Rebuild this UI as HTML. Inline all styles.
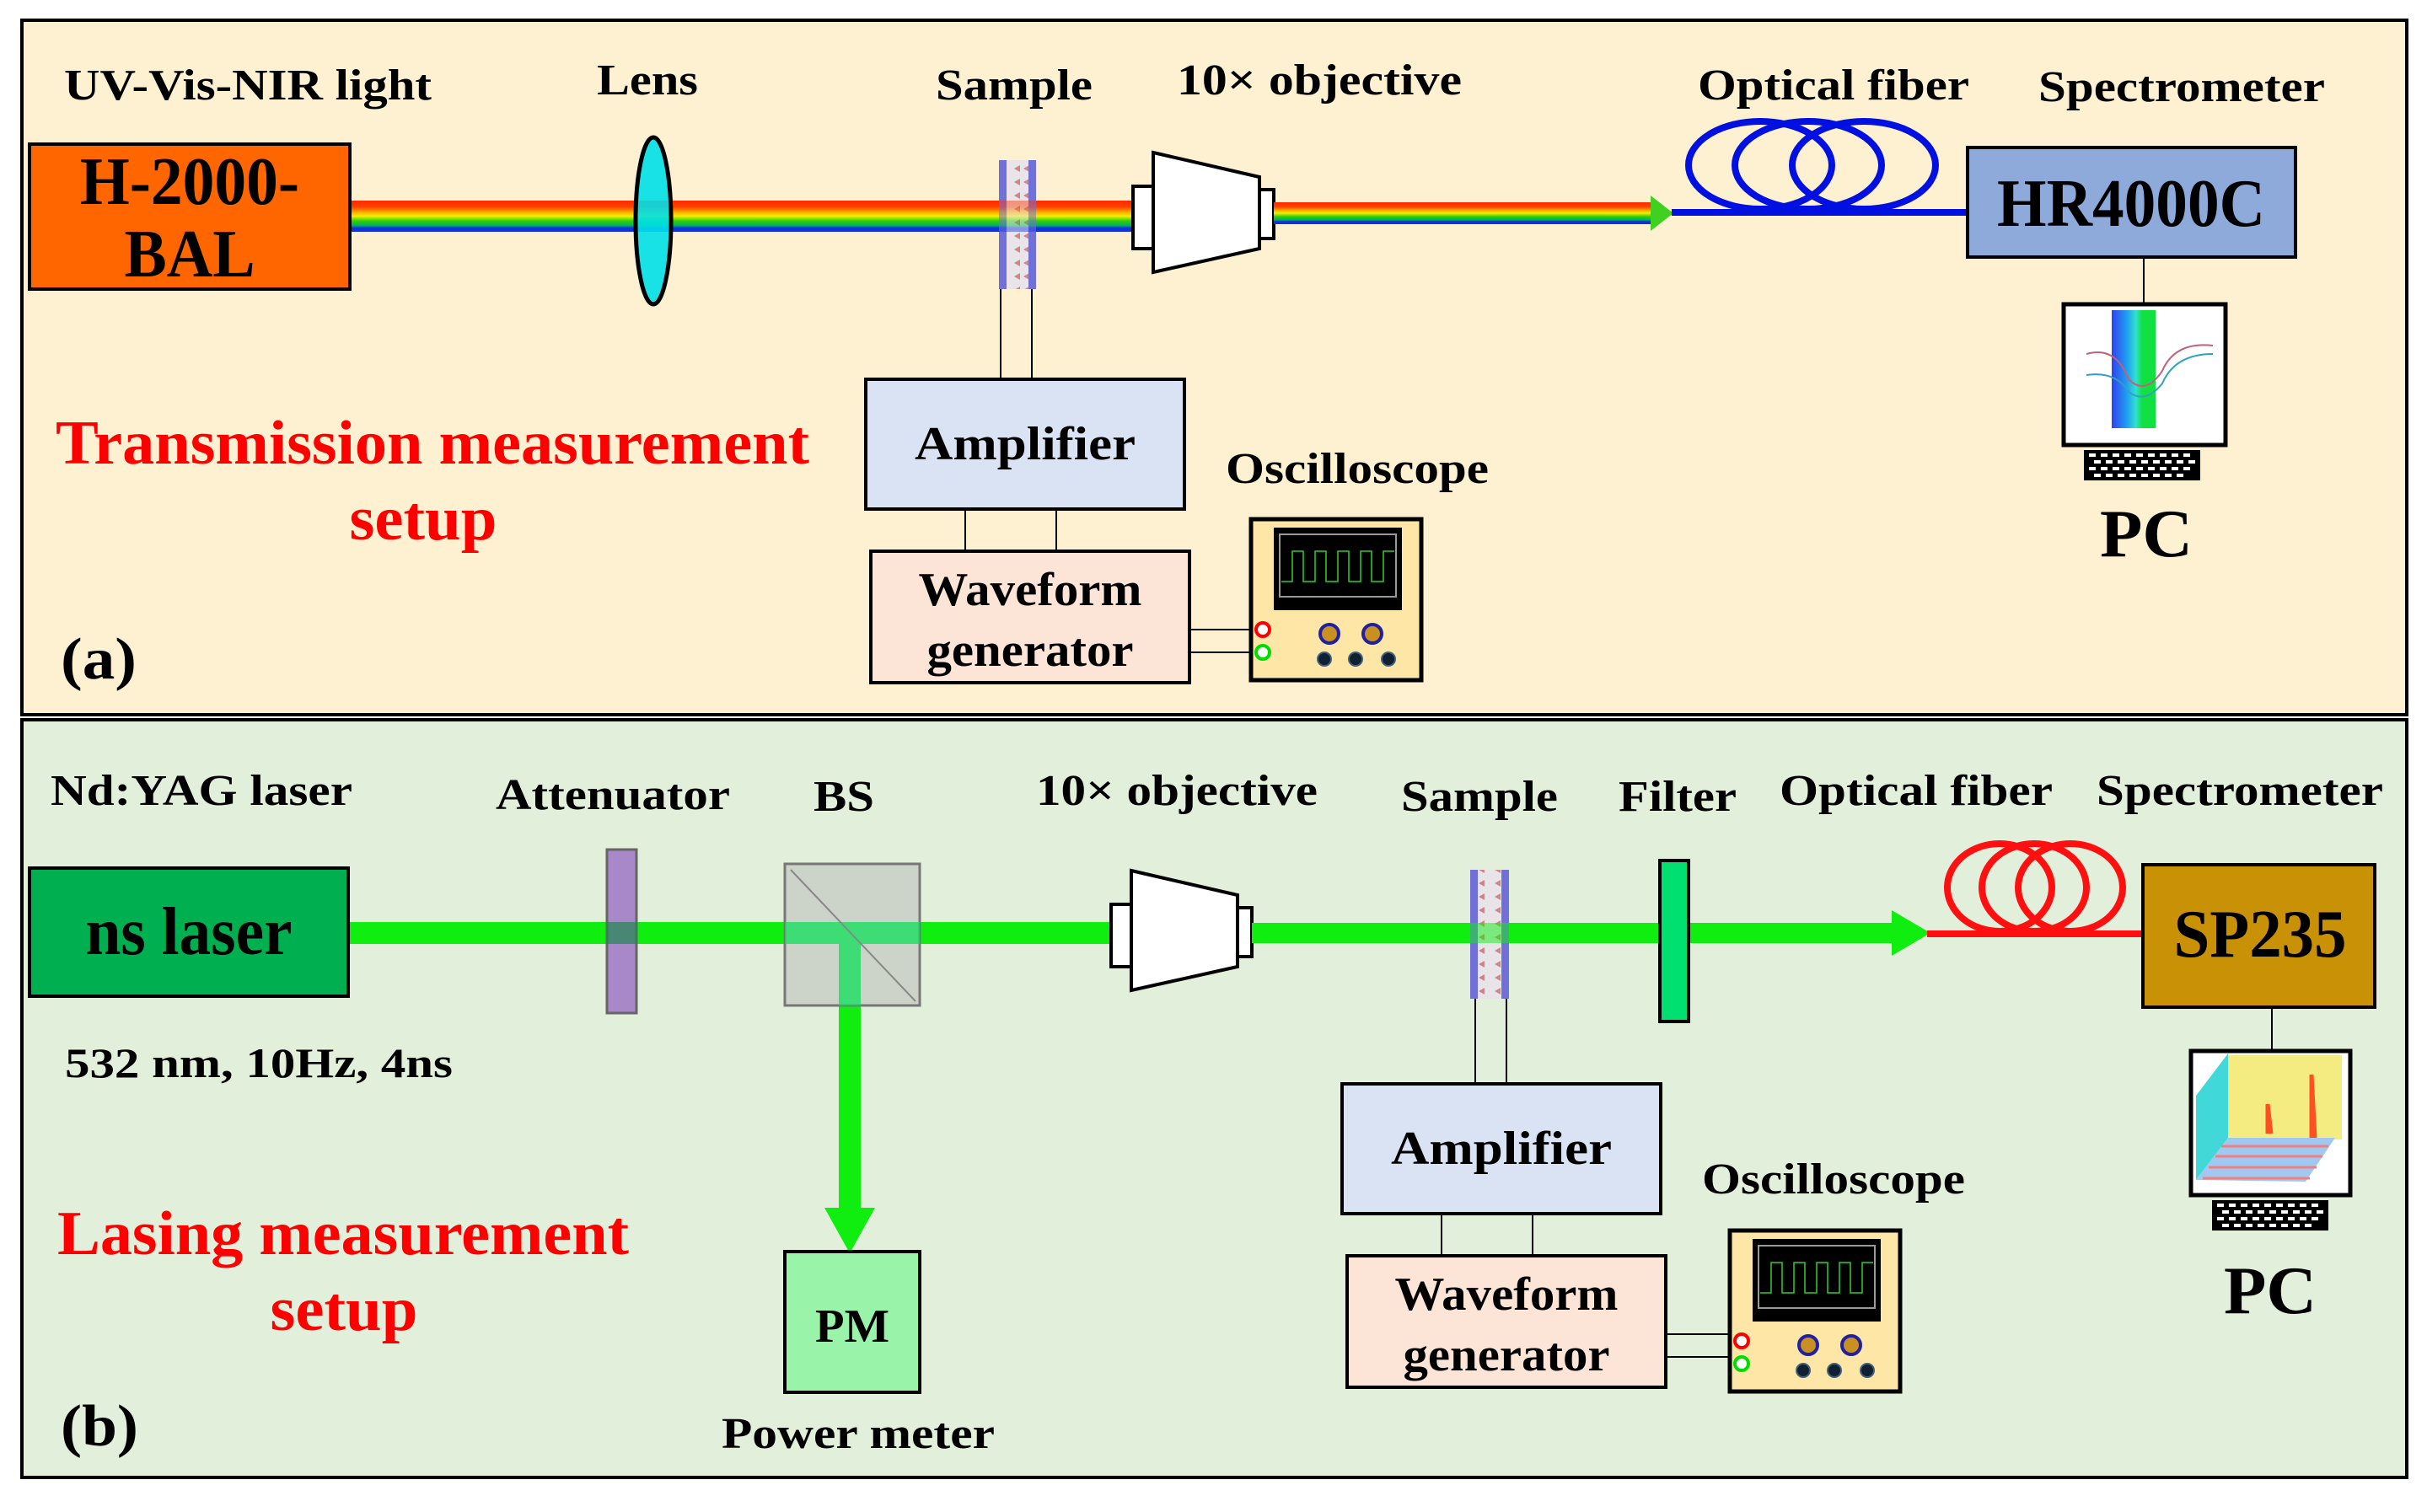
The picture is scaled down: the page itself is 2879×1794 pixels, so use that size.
<!DOCTYPE html>
<html><head><meta charset="utf-8"><style>html,body{margin:0;padding:0;background:#fff}svg{display:block}text{font-family:"Liberation Serif",serif;font-weight:bold}</style></head>
<body>
<svg width="2879" height="1794" viewBox="0 0 2879 1794" xmlns="http://www.w3.org/2000/svg">
<defs>
<linearGradient id="rb" x1="0" y1="0" x2="0" y2="1">
<stop offset="0" stop-color="#ff2a00"/><stop offset="0.2" stop-color="#ff4000"/><stop offset="0.38" stop-color="#ffb000"/><stop offset="0.5" stop-color="#f0f000"/><stop offset="0.65" stop-color="#30d000"/><stop offset="0.8" stop-color="#00b060"/><stop offset="0.88" stop-color="#1030e0"/><stop offset="1" stop-color="#1030e0"/>
</linearGradient>
<linearGradient id="bandg" x1="0" y1="0" x2="1" y2="0">
<stop offset="0" stop-color="#3040f0"/><stop offset="0.35" stop-color="#20a0f0"/><stop offset="0.55" stop-color="#30e0d0"/><stop offset="0.7" stop-color="#10e040"/><stop offset="1" stop-color="#10e040"/>
</linearGradient>
<pattern id="smp" width="30" height="16" patternUnits="userSpaceOnUse"><rect width="30" height="16" fill="#e8e4e8"/><path d="M3 8 L10 4 L10 12Z M14 8 L21 4 L21 12Z" fill="#c06060" opacity="0.7"/></pattern>
<g id="osc">
<rect x="1484" y="616" width="202" height="191" fill="#fde6a6" stroke="#000" stroke-width="5"/>
<rect x="1511" y="626" width="152" height="98" fill="#000"/>
<rect x="1518" y="634" width="138" height="74" fill="none" stroke="#999" stroke-width="2"/>
<path d="M1520 690 H1533 V654 H1546 V690 H1560 V654 H1573 V690 H1587 V654 H1600 V690 H1614 V654 H1627 V690 H1641 V654 H1654" fill="none" stroke="#3c3" stroke-width="1.5"/>
<circle cx="1498" cy="747" r="8" fill="#fff" stroke="#f00" stroke-width="4"/>
<circle cx="1498" cy="774" r="8" fill="#fff" stroke="#0d0" stroke-width="4"/>
<circle cx="1577" cy="752" r="11" fill="#c89020" stroke="#2020a0" stroke-width="4"/>
<circle cx="1628" cy="752" r="11" fill="#c89020" stroke="#2020a0" stroke-width="4"/>
<circle cx="1571" cy="782" r="8" fill="#102030" stroke="#406080" stroke-width="2"/>
<circle cx="1608" cy="782" r="8" fill="#102030" stroke="#406080" stroke-width="2"/>
<circle cx="1647" cy="782" r="8" fill="#102030" stroke="#406080" stroke-width="2"/>
</g>
<g id="amp">
<rect x="1027" y="450" width="378" height="154" fill="#dae3f3" stroke="#000" stroke-width="4"/>
<text x="1216" y="545" font-size="56" text-anchor="middle" textLength="262" lengthAdjust="spacingAndGlyphs">Amplifier</text>
<line x1="1145" y1="604" x2="1145" y2="654" stroke="#000" stroke-width="2"/>
<line x1="1253" y1="604" x2="1253" y2="654" stroke="#000" stroke-width="2"/>
<rect x="1033" y="654" width="378" height="156" fill="#fce4d6" stroke="#000" stroke-width="4"/>
<text x="1222" y="718" font-size="56" text-anchor="middle" textLength="265" lengthAdjust="spacingAndGlyphs">Waveform</text>
<text x="1222" y="790" font-size="56" text-anchor="middle" textLength="245" lengthAdjust="spacingAndGlyphs">generator</text>
<line x1="1411" y1="747" x2="1490" y2="747" stroke="#000" stroke-width="2"/>
<line x1="1411" y1="774" x2="1490" y2="774" stroke="#000" stroke-width="2"/>
</g>
<g id="obj">
<rect x="1344" y="221" width="24" height="74" fill="#fff" stroke="#000" stroke-width="4"/>
<path d="M1368 181 L1494 210 L1494 295 L1368 323Z" fill="#fff" stroke="#000" stroke-width="4"/>
<rect x="1494" y="225" width="17" height="58" fill="#fff" stroke="#000" stroke-width="4"/>
</g>
<g id="kb"><rect x="0" y="0" width="138" height="36" fill="#000"/>
<g fill="#fff"><rect x="6" y="4" width="8" height="4"/><rect x="20" y="4" width="8" height="4"/><rect x="34" y="4" width="8" height="4"/><rect x="48" y="4" width="8" height="4"/><rect x="62" y="4" width="8" height="4"/><rect x="76" y="4" width="8" height="4"/><rect x="90" y="4" width="8" height="4"/><rect x="104" y="4" width="8" height="4"/><rect x="118" y="4" width="8" height="4"/>
<rect x="12" y="12" width="8" height="4"/><rect x="26" y="12" width="8" height="4"/><rect x="40" y="12" width="8" height="4"/><rect x="54" y="12" width="8" height="4"/><rect x="68" y="12" width="8" height="4"/><rect x="82" y="12" width="8" height="4"/><rect x="96" y="12" width="8" height="4"/><rect x="110" y="12" width="8" height="4"/><rect x="124" y="12" width="8" height="4"/>
<rect x="6" y="20" width="8" height="4"/><rect x="20" y="20" width="8" height="4"/><rect x="34" y="20" width="8" height="4"/><rect x="48" y="20" width="8" height="4"/><rect x="62" y="20" width="8" height="4"/><rect x="76" y="20" width="8" height="4"/><rect x="90" y="20" width="8" height="4"/><rect x="104" y="20" width="8" height="4"/><rect x="118" y="20" width="8" height="4"/>
<rect x="12" y="28" width="8" height="4"/><rect x="26" y="28" width="8" height="4"/><rect x="40" y="28" width="8" height="4"/><rect x="54" y="28" width="8" height="4"/><rect x="68" y="28" width="8" height="4"/><rect x="82" y="28" width="8" height="4"/><rect x="96" y="28" width="8" height="4"/><rect x="110" y="28" width="8" height="4"/></g></g>
</defs>

<!-- Panel a -->
<rect x="26" y="24" width="2829" height="824" fill="#fef1d1" stroke="#000" stroke-width="4"/>
<!-- Panel b -->
<rect x="26" y="854" width="2829" height="899" fill="#e2efda" stroke="#000" stroke-width="4"/>

<!-- ===== (a) ===== -->
<text x="76" y="118" font-size="52" textLength="436" lengthAdjust="spacingAndGlyphs">UV-Vis-NIR light</text>
<text x="768" y="112" font-size="52" text-anchor="middle" textLength="120" lengthAdjust="spacingAndGlyphs">Lens</text>
<text x="1203" y="118" font-size="52" text-anchor="middle" textLength="186" lengthAdjust="spacingAndGlyphs">Sample</text>
<text x="1565" y="112" font-size="52" text-anchor="middle" textLength="338" lengthAdjust="spacingAndGlyphs">10× objective</text>
<text x="2175" y="118" font-size="52" text-anchor="middle" textLength="322" lengthAdjust="spacingAndGlyphs">Optical fiber</text>
<text x="2588" y="120" font-size="52" text-anchor="middle" textLength="340" lengthAdjust="spacingAndGlyphs">Spectrometer</text>

<rect x="415" y="238" width="930" height="37" fill="url(#rb)"/>
<rect x="35" y="171" width="380" height="172" fill="#ff6600" stroke="#000" stroke-width="4"/>
<text x="225" y="242" font-size="80" text-anchor="middle" textLength="260" lengthAdjust="spacingAndGlyphs">H-2000-</text>
<text x="225" y="328" font-size="80" text-anchor="middle" textLength="155" lengthAdjust="spacingAndGlyphs">BAL</text>
<ellipse cx="775" cy="262" rx="21" ry="99" fill="#00e0e8" fill-opacity="0.9" stroke="#000" stroke-width="5"/>
<rect x="1185" y="190" width="44" height="153" fill="url(#smp)"/>
<rect x="1185" y="190" width="9" height="153" fill="#7070d8"/>
<rect x="1220" y="190" width="9" height="153" fill="#7070d8"/>
<rect x="1185" y="238" width="44" height="37" fill="url(#rb)" opacity="0.45"/>
<use href="#obj"/>
<rect x="1511" y="240" width="449" height="26" fill="url(#rb)"/>
<path d="M1958 232 L1985 253 L1958 274Z" fill="#40d020"/>
<line x1="1187" y1="343" x2="1187" y2="450" stroke="#000" stroke-width="2"/>
<line x1="1224" y1="343" x2="1224" y2="450" stroke="#000" stroke-width="2"/>
<!-- fiber -->
<g fill="none" stroke="#0010e0" stroke-width="8">
<ellipse cx="2088" cy="196" rx="85" ry="52"/>
<ellipse cx="2145" cy="196" rx="87" ry="52"/>
<ellipse cx="2211" cy="196" rx="85" ry="52"/>
<line x1="1983" y1="252" x2="2336" y2="252"/>
</g>
<rect x="2334" y="175" width="389" height="130" fill="#8eaadb" stroke="#000" stroke-width="4"/>
<text x="2528" y="268" font-size="80" text-anchor="middle" textLength="318" lengthAdjust="spacingAndGlyphs">HR4000C</text>
<line x1="2543" y1="305" x2="2543" y2="359" stroke="#000" stroke-width="2"/>
<rect x="2448" y="361" width="192" height="167" fill="#fff" stroke="#000" stroke-width="5"/>
<rect x="2505" y="368" width="52" height="140" fill="url(#bandg)"/>
<path d="M2475 420 Q2510 410 2525 450 Q2545 470 2565 440 Q2580 405 2625 410" fill="none" stroke="#c06080" stroke-width="2"/>
<path d="M2475 445 Q2510 440 2525 465 Q2545 480 2565 455 Q2580 420 2625 420" fill="none" stroke="#30a0c0" stroke-width="2"/>
<use href="#kb" x="2472" y="534"/>
<text x="2546" y="660" font-size="80" text-anchor="middle" textLength="110" lengthAdjust="spacingAndGlyphs">PC</text>

<text x="66" y="550" font-size="74" fill="#ff0000" textLength="894" lengthAdjust="spacingAndGlyphs">Transmission measurement</text>
<text x="502" y="640" font-size="74" fill="#ff0000" text-anchor="middle" textLength="175" lengthAdjust="spacingAndGlyphs">setup</text>
<text x="1610" y="573" font-size="52" text-anchor="middle" textLength="312" lengthAdjust="spacingAndGlyphs">Oscilloscope</text>
<use href="#amp"/>
<use href="#osc"/>
<text x="72" y="805" font-size="70" textLength="90" lengthAdjust="spacingAndGlyphs">(a)</text>

<!-- ===== (b) ===== -->
<text x="60" y="955" font-size="52" textLength="358" lengthAdjust="spacingAndGlyphs">Nd:YAG laser</text>
<text x="727" y="960" font-size="52" text-anchor="middle" textLength="278" lengthAdjust="spacingAndGlyphs">Attenuator</text>
<text x="1001" y="962" font-size="52" text-anchor="middle" textLength="72" lengthAdjust="spacingAndGlyphs">BS</text>
<text x="1396" y="955" font-size="52" text-anchor="middle" textLength="334" lengthAdjust="spacingAndGlyphs">10× objective</text>
<text x="1755" y="962" font-size="52" text-anchor="middle" textLength="186" lengthAdjust="spacingAndGlyphs">Sample</text>
<text x="1990" y="962" font-size="52" text-anchor="middle" textLength="140" lengthAdjust="spacingAndGlyphs">Filter</text>
<text x="2273" y="955" font-size="52" text-anchor="middle" textLength="324" lengthAdjust="spacingAndGlyphs">Optical fiber</text>
<text x="2657" y="955" font-size="52" text-anchor="middle" textLength="340" lengthAdjust="spacingAndGlyphs">Spectrometer</text>

<rect x="413" y="1094" width="910" height="26" fill="#10ee10"/>
<rect x="995" y="1107" width="26" height="330" fill="#10ee10"/>
<path d="M978 1433 L1038 1433 L1008 1487Z" fill="#10ee10"/>
<rect x="35" y="1030" width="378" height="152" fill="#00b050" stroke="#000" stroke-width="4"/>
<text x="224" y="1132" font-size="80" text-anchor="middle" textLength="245" lengthAdjust="spacingAndGlyphs">ns laser</text>
<rect x="720" y="1008" width="35" height="194" fill="#a888c8" stroke="#666" stroke-width="3"/>
<rect x="720" y="1094" width="35" height="26" fill="#208850" opacity="0.7"/>
<rect x="931" y="1025" width="160" height="168" fill="#c8cec4" fill-opacity="0.85" stroke="#777" stroke-width="3"/>
<rect x="931" y="1094" width="160" height="26" fill="#10e060" opacity="0.7"/>
<rect x="995" y="1120" width="26" height="73" fill="#10e060" opacity="0.7"/>
<line x1="938" y1="1032" x2="1086" y2="1188" stroke="#888" stroke-width="2"/>
<rect x="931" y="1485" width="160" height="167" fill="#99f3a8" stroke="#000" stroke-width="4"/>
<text x="1011" y="1592" font-size="56" text-anchor="middle" textLength="88" lengthAdjust="spacingAndGlyphs">PM</text>
<text x="1018" y="1718" font-size="52" text-anchor="middle" textLength="324" lengthAdjust="spacingAndGlyphs">Power meter</text>
<g transform="translate(-26,852)"><use href="#obj"/></g>
<rect x="1485" y="1095" width="770" height="24" fill="#10ee10"/>
<path d="M2244 1080 L2290 1107 L2244 1134Z" fill="#10ee10"/>
<rect x="1744" y="1032" width="46" height="153" fill="url(#smp)"/>
<rect x="1744" y="1032" width="9" height="153" fill="#7070d8"/>
<rect x="1781" y="1032" width="9" height="153" fill="#7070d8"/>
<rect x="1744" y="1095" width="46" height="24" fill="#10ee10" opacity="0.5"/>
<rect x="1969" y="1021" width="34" height="191" fill="#00e070" stroke="#000" stroke-width="4"/>
<line x1="1750" y1="1185" x2="1750" y2="1285" stroke="#000" stroke-width="2"/>
<line x1="1787" y1="1185" x2="1787" y2="1285" stroke="#000" stroke-width="2"/>
<g fill="none" stroke="#ff1010" stroke-width="8">
<ellipse cx="2372" cy="1053" rx="62" ry="52"/>
<ellipse cx="2413" cy="1053" rx="62" ry="52"/>
<ellipse cx="2456" cy="1053" rx="62" ry="52"/>
<line x1="2286" y1="1108" x2="2544" y2="1108"/>
</g>
<rect x="2542" y="1026" width="275" height="169" fill="#c99206" stroke="#000" stroke-width="4"/>
<text x="2681" y="1135" font-size="80" text-anchor="middle" textLength="205" lengthAdjust="spacingAndGlyphs">SP235</text>
<line x1="2695" y1="1195" x2="2695" y2="1246" stroke="#000" stroke-width="2"/>
<rect x="2599" y="1247" width="189" height="171" fill="#fff" stroke="#000" stroke-width="5"/>
<path d="M2605 1400 L2605 1300 L2643 1250 L2643 1350Z" fill="#40d8d8"/>
<rect x="2643" y="1252" width="135" height="100" fill="#f4ec80"/>
<path d="M2605 1400 L2643 1350 L2770 1350 L2735 1402Z" fill="#a0c8f0"/>
<path d="M2613 1398 L2740 1398 M2620 1385 L2748 1385 M2628 1372 L2755 1372 M2635 1360 L2762 1360" stroke="#f08080" stroke-width="3"/>
<path d="M2690 1345 L2690 1310 L2694 1345 M2742 1350 L2742 1275 L2746 1350" stroke="#ff5020" stroke-width="5" fill="none"/>
<use href="#kb" x="2624" y="1424"/>
<text x="2693" y="1558" font-size="80" text-anchor="middle" textLength="110" lengthAdjust="spacingAndGlyphs">PC</text>

<text x="77" y="1278" font-size="50" textLength="460" lengthAdjust="spacingAndGlyphs">532 nm, 10Hz, 4ns</text>
<text x="68" y="1488" font-size="74" fill="#ff0000" textLength="678" lengthAdjust="spacingAndGlyphs">Lasing measurement</text>
<text x="408" y="1578" font-size="74" fill="#ff0000" text-anchor="middle" textLength="175" lengthAdjust="spacingAndGlyphs">setup</text>
<text x="2175" y="1416" font-size="52" text-anchor="middle" textLength="312" lengthAdjust="spacingAndGlyphs">Oscilloscope</text>
<g transform="translate(565,836)"><use href="#amp"/></g>
<g transform="translate(568,844)"><use href="#osc"/></g>
<text x="72" y="1715" font-size="70" textLength="92" lengthAdjust="spacingAndGlyphs">(b)</text>
</svg>
</body></html>
